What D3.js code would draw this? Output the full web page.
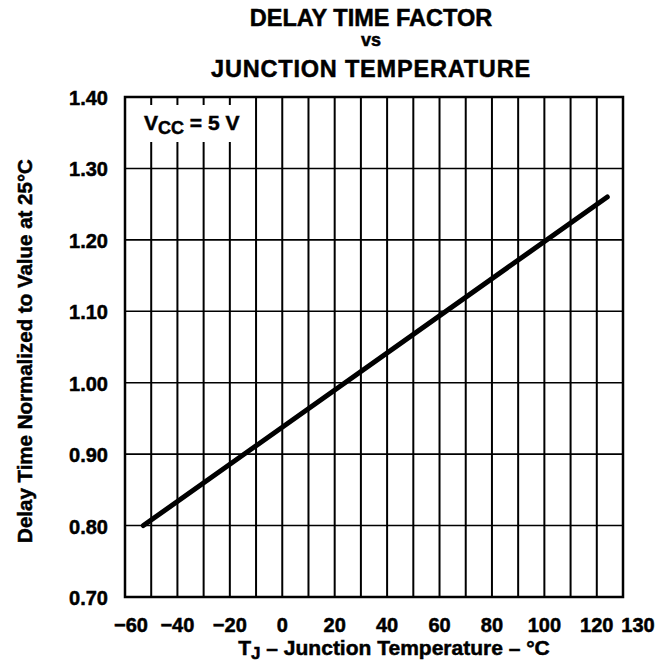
<!DOCTYPE html>
<html>
<head>
<meta charset="utf-8">
<script src="https://cdn.jsdelivr.net/npm/d3@7"></script>
<style>
  body { margin: 0; background: white; }
  text { font-family: "Liberation Sans", Arial, sans-serif; font-weight: bold; fill: black;
         stroke: black; stroke-width: 0.5px; }
</style>
</head>
<body>
<script>
// Chart values
var xTickLabels = [-60, -40, -20, 0, 20, 40, 60, 80, 100, 120, 130];
var xGrid = [-50, -40, -30, -20, -10, 0, 10, 20, 30, 40, 50, 60, 70, 80, 90, 100, 110, 120];
var yTicks = [0.70, 0.80, 0.90, 1.00, 1.10, 1.20, 1.30, 1.40];
var tempC = [-53, 124];
var delayFactor = [0.80, 1.26];

var width = 666, height = 666;
var margin = { left: 125, right: 43, top: 97, bottom: 69 };

var svg = d3.select("body")
    .append("svg")
    .attr("width", width)
    .attr("height", height);

var x = d3.scaleLinear()
    .domain([-60, 130])
    .range([margin.left, width - margin.right]);

var y = d3.scaleLinear()
    .domain([0.70, 1.40])
    .range([height - margin.bottom, margin.top]);

// Horizontal gridlines
svg.append("g")
    .selectAll("line")
    .data(yTicks.slice(1, -1))
    .enter()
    .append("line")
    .attr("x1", x(-60)).attr("x2", x(130))
    .attr("y1", d => y(d)).attr("y2", d => y(d))
    .attr("stroke", "black")
    .attr("stroke-width", 1.6);

// Vertical gridlines
svg.append("g")
    .selectAll("line")
    .data(xGrid)
    .enter()
    .append("line")
    .attr("x1", d => x(d)).attr("x2", d => x(d))
    .attr("y1", y(0.70)).attr("y2", y(1.40))
    .attr("stroke", "black")
    .attr("stroke-width", 2);

// Legend box knocks out the grid
svg.append("rect")
    .attr("x", x(-60) + 2)
    .attr("y", 105)
    .attr("width", 123)
    .attr("height", 37)
    .attr("fill", "white");

var leg = svg.append("text")
    .attr("x", 144)
    .attr("y", 130)
    .style("font-size", "21px");
leg.append("tspan").text("V");
leg.append("tspan").attr("dy", 4).style("font-size", "18px").text("CC");
leg.append("tspan").attr("dy", -4).text(" = 5 V");

// Frame
svg.append("rect")
    .attr("x", x(-60))
    .attr("y", y(1.40))
    .attr("width", x(130) - x(-60))
    .attr("height", y(0.70) - y(1.40))
    .attr("fill", "none")
    .attr("stroke", "black")
    .attr("stroke-width", 2.5);

// Data line
var line = d3.line()
    .x(function (d, i) { return x(tempC[i]); })
    .y(function (d) { return y(d); });

svg.append("path")
    .attr("d", line(delayFactor))
    .attr("fill", "none")
    .attr("stroke", "black")
    .attr("stroke-width", 5)
    .attr("stroke-linecap", "round");

// Y tick labels
svg.append("g")
    .selectAll("text")
    .data(yTicks)
    .enter()
    .append("text")
    .attr("x", 108)
    .attr("y", d => y(d) + 8)
    .attr("text-anchor", "end")
    .style("font-size", "20px")
    .text(d => d.toFixed(2));

// X tick labels
svg.append("g")
    .selectAll("text")
    .data(xTickLabels)
    .enter()
    .append("text")
    .attr("x", function (d) {
        if (d === -60) return x(d) + 6;
        if (d === 130) return x(d) + 15;
        return x(d);
    })
    .attr("y", 632)
    .attr("text-anchor", "middle")
    .style("font-size", "20px")
    .text(d => (d < 0 ? "\u2212" + Math.abs(d) : d));

// Title
var title = ["DELAY TIME FACTOR", "vs", "JUNCTION TEMPERATURE"];
svg.append("g")
    .selectAll("text")
    .data(title)
    .enter()
    .append("text")
    .attr("x", 371)
    .attr("y", (d, i) => [26, 46, 77][i])
    .attr("text-anchor", "middle")
    .style("font-size", (d, i) => (i === 1 ? "18px" : "23.5px"))
    .style("letter-spacing", (d, i) => (i === 2 ? "0.8px" : "0px"))
    .text(d => d);

// X axis label
var xl = svg.append("text")
    .attr("x", 394)
    .attr("y", 655)
    .attr("text-anchor", "middle")
    .style("font-size", "21px");
xl.append("tspan").text("T");
xl.append("tspan").attr("dy", 4).style("font-size", "17px").text("J");
xl.append("tspan").attr("dy", -4).text(" \u2013 Junction Temperature \u2013 \u00B0C");

// Y axis label
svg.append("text")
    .attr("transform", "translate(32,351) rotate(-90)")
    .attr("text-anchor", "middle")
    .style("font-size", "20.5px")
    .text("Delay Time Normalized to Value at 25\u00B0C");
</script>
</body>
</html>
